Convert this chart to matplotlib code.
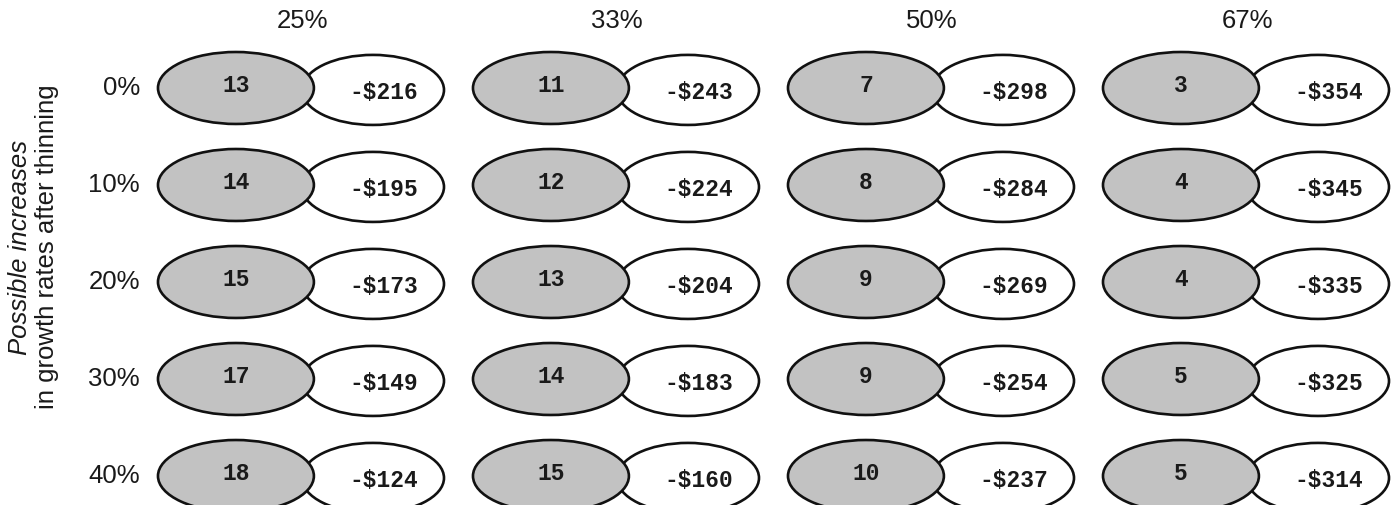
import matplotlib.pyplot as plt
from matplotlib.patches import Ellipse

# thinning intensity (columns) and growth-rate increase (rows)
thinning = ["25%", "33%", "50%", "67%"]
growth = ["0%", "10%", "20%", "30%", "40%"]

# left (gray) ellipse values
years = [
    [13, 11, 7, 3],
    [14, 12, 8, 4],
    [15, 13, 9, 4],
    [17, 14, 9, 5],
    [18, 15, 10, 5],
]
# right (white) ellipse values, dollars
dollars = [
    [-216, -243, -298, -354],
    [-195, -224, -284, -345],
    [-173, -204, -269, -335],
    [-149, -183, -254, -325],
    [-124, -160, -237, -314],
]

fig = plt.figure(figsize=(13.92, 5.05), dpi=100)
ax = fig.add_axes([0, 0, 1, 1])
ax.set_xlim(-0.749, 3.670)
ax.set_ylim(4.299, -0.907)
ax.axis("off")

mono = dict(family="Liberation Mono", fontweight="bold", fontsize=16.5, color="#1a1a1a")
sans = dict(family="Liberation Sans", fontsize=18.5, color="#1a1a1a")

for j, lab in enumerate(thinning):
    ax.text(j + 0.21, -0.69, lab, ha="center", va="center", **sans)

for i, lab in enumerate(growth):
    ax.text(-0.305, i, lab, ha="right", va="center", **sans)
    for j in range(len(thinning)):
        w = Ellipse((j + 0.435, i + 0.02), 0.451, 0.722, facecolor="white",
                    edgecolor="#111111", linewidth=1.9, zorder=1)
        g = Ellipse((j, i), 0.495, 0.742, facecolor="#c2c2c2",
                    edgecolor="#111111", linewidth=1.9, zorder=2)
        ax.add_patch(w)
        ax.add_patch(g)
        ax.text(j, i - 0.03, str(years[i][j]), ha="center", va="center", zorder=3, **mono)
        ax.text(j + 0.47, i + 0.05, f"-${abs(dollars[i][j])}", ha="center", va="center",
                zorder=3, **mono)

# two-line rotated y label
fig.text(20 / 1392, 1 - 247 / 505, "Possible increases", rotation=90, ha="center",
         va="center", style="italic", **sans)
fig.text(47 / 1392, 1 - 247 / 505, "in growth rates after thinning", rotation=90,
         ha="center", va="center", **sans)

fig.savefig("out.png", dpi=100)
